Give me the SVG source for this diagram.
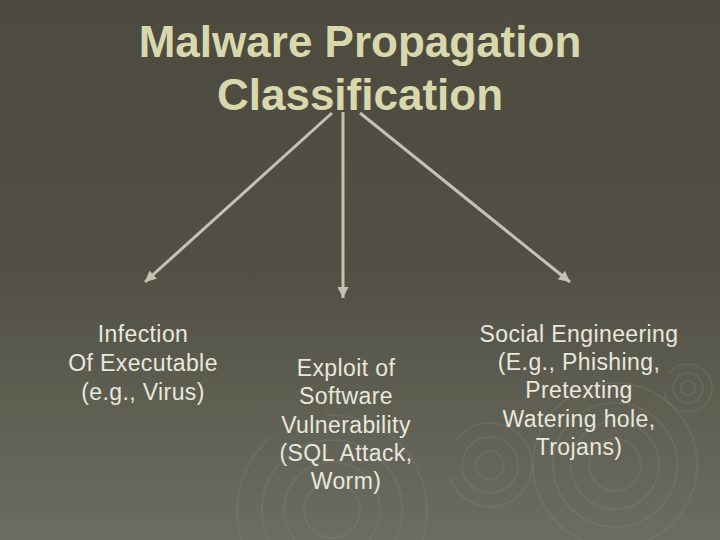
<svg xmlns="http://www.w3.org/2000/svg" width="720" height="540" viewBox="0 0 720 540">
<defs>
<linearGradient id="bg" x1="0" y1="0" x2="0" y2="1">
<stop offset="0" stop-color="#4d4b3f"/>
<stop offset="0.5" stop-color="#525044"/>
<stop offset="1" stop-color="#6b6d60"/>
</linearGradient>
<marker id="ah" viewBox="0 0 10 10" refX="10" refY="5" markerWidth="12" markerHeight="11" markerUnits="userSpaceOnUse" orient="auto">
<path d="M0,0 L10,5 L0,10 z" fill="#c4c2b4"/>
</marker>
<style>
.title{font-family:"Liberation Sans",Arial,sans-serif;font-weight:bold;font-size:44px;fill:#d9d8ad;text-anchor:middle}
.lbl{font-family:"Liberation Sans",Arial,sans-serif;font-size:23px;letter-spacing:0.4px;fill:#e8e7dc;text-anchor:middle}
.conn{stroke:#c4c2b4;stroke-width:3;fill:none;marker-end:url(#ah)}
.ring{fill:none;stroke:#8a8c7e;stroke-opacity:0.22}
</style>
</defs>
<rect width="720" height="540" fill="url(#bg)"/>
<g id="decor">
<g class="ring" stroke-width="2">
<circle cx="615" cy="465" r="82"/>
<circle cx="615" cy="465" r="62"/>
<circle cx="615" cy="465" r="44"/>
<circle cx="615" cy="465" r="26"/>
<circle cx="332" cy="510" r="95" stroke-dasharray="160 60"/>
<circle cx="332" cy="510" r="70"/>
<circle cx="332" cy="510" r="48"/>
<circle cx="332" cy="510" r="28"/>
<circle cx="490" cy="465" r="42" stroke-dasharray="120 40"/>
<circle cx="490" cy="465" r="28"/>
<circle cx="490" cy="465" r="14"/>
<circle cx="688" cy="388" r="24" stroke-dasharray="70 20"/>
<circle cx="688" cy="388" r="15"/>
<circle cx="688" cy="388" r="7"/>
</g>
</g>
<g id="title">
<text class="title" x="360" y="57">Malware Propagation</text>
<text class="title" x="360" y="110">Classification</text>
</g>
<g id="connectors">
<line class="conn" x1="332" y1="113" x2="145" y2="282"/>
<line class="conn" x1="343" y1="112" x2="343" y2="298"/>
<line class="conn" x1="360" y1="113" x2="570" y2="282"/>
</g>
<g id="node-infection">
<text class="lbl" x="143" y="342">Infection</text>
<text class="lbl" x="143" y="371">Of Executable</text>
<text class="lbl" x="143" y="400">(e.g., Virus)</text>
</g>
<g id="node-exploit">
<text class="lbl" x="346" y="376">Exploit of</text>
<text class="lbl" x="346" y="404">Software</text>
<text class="lbl" x="346" y="433">Vulnerability</text>
<text class="lbl" x="346" y="461">(SQL Attack,</text>
<text class="lbl" x="346" y="489">Worm)</text>
</g>
<g id="node-social">
<text class="lbl" x="579" y="342">Social Engineering</text>
<text class="lbl" x="579" y="370">(E.g., Phishing,</text>
<text class="lbl" x="579" y="398">Pretexting</text>
<text class="lbl" x="579" y="427">Watering hole,</text>
<text class="lbl" x="579" y="455">Trojans)</text>
</g>
</svg>
